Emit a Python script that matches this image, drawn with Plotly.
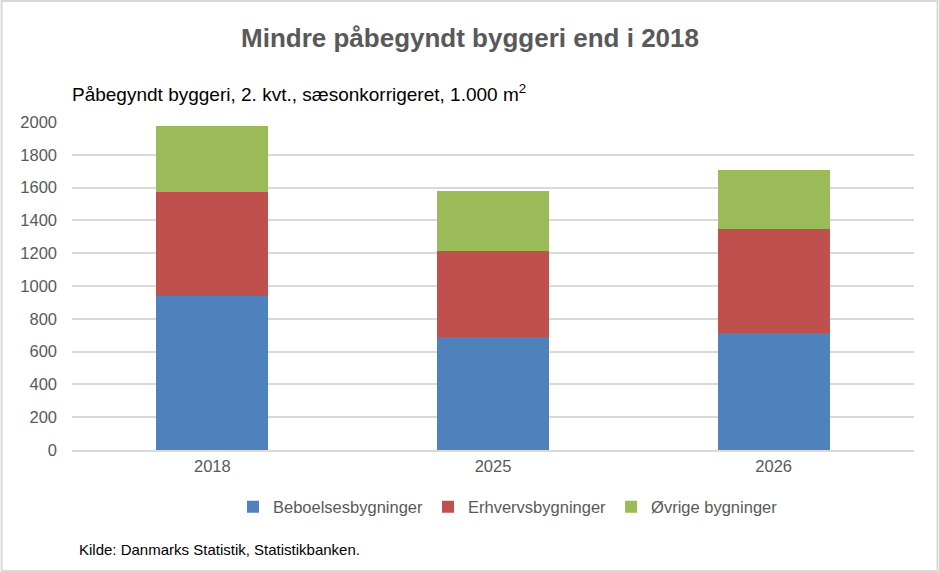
import plotly.graph_objects as go

categories = ["2018", "2025", "2026"]
beboelse = [939, 691, 711]
erhverv = [634, 522, 634]
ovrige = [401, 366, 362]
series_names = ["Beboelsesbygninger", "Erhvervsbygninger", "Øvrige bygninger"]
colors = ["#4F81BD", "#C0504D", "#9BBB59"]
y_ticks = [0, 200, 400, 600, 800, 1000, 1200, 1400, 1600, 1800, 2000]

W, H = 939, 572
L, R, T, B = 71.5, 24.5, 122, 122
FONT = "Liberation Sans"

fig = go.Figure()
for name, vals, col in zip(series_names, [beboelse, erhverv, ovrige], colors):
    fig.add_trace(go.Bar(x=categories, y=vals, name=name, marker=dict(color=col, line=dict(width=0)),
                         width=0.4))

def px_x(p):
    return (p - L) / (W - L - R)

def px_y(p):
    return (H - B - p) / (H - T - B)

fig.update_layout(
    width=W, height=H,
    barmode="stack",
    margin=dict(l=L, r=R, t=T, b=B),
    paper_bgcolor="white", plot_bgcolor="white",
    font=dict(family=FONT, color="#595959", size=16),
    showlegend=True,
    legend=dict(orientation="h", x=px_x(508), y=px_y(507), xanchor="center", yanchor="middle",
                font=dict(size=16.5, color="#595959"), itemwidth=30, traceorder="normal",
                itemclick=False),
    xaxis=dict(showgrid=False, showline=True, linecolor="#d9d9d9", linewidth=1.5,
               tickfont=dict(size=16.5, color="#595959"), ticks="", fixedrange=True),
    yaxis=dict(range=[0, 2000], tickvals=y_ticks, showgrid=True, gridcolor="#d9d9d9", gridwidth=1.5,
               zeroline=False, showline=False, tickfont=dict(size=16.5, color="#595959"),
               ticks="", ticklabelstandoff=14),
    annotations=[
        dict(text="<b>Mindre påbegyndt byggeri end i 2018</b>", xref="paper", yref="paper",
             x=px_x(470), y=px_y(38), xanchor="center", yanchor="middle", showarrow=False,
             font=dict(size=26, color="#595959", family=FONT)),
        dict(text="Påbegyndt byggeri, 2. kvt., sæsonkorrigeret, 1.000 m<sup>2</sup>", xref="paper", yref="paper",
             x=px_x(69), y=px_y(93), xanchor="left", yanchor="middle", showarrow=False,
             font=dict(size=19, color="#000000", family=FONT)),
        dict(text="Kilde: Danmarks Statistik, Statistikbanken.", xref="paper", yref="paper",
             x=px_x(77), y=px_y(549), xanchor="left", yanchor="middle", showarrow=False,
             font=dict(size=15, color="#000000", family=FONT)),
    ],
    shapes=[dict(type="rect", xref="paper", yref="paper", x0=px_x(1), x1=px_x(W - 1),
                 y0=px_y(H - 1), y1=px_y(1), line=dict(color="#d9d9d9", width=2), layer="below")],
)

fig.write_html("out.html", config={"displayModeBar": False},
               post_script="document.body.style.margin='0';")
